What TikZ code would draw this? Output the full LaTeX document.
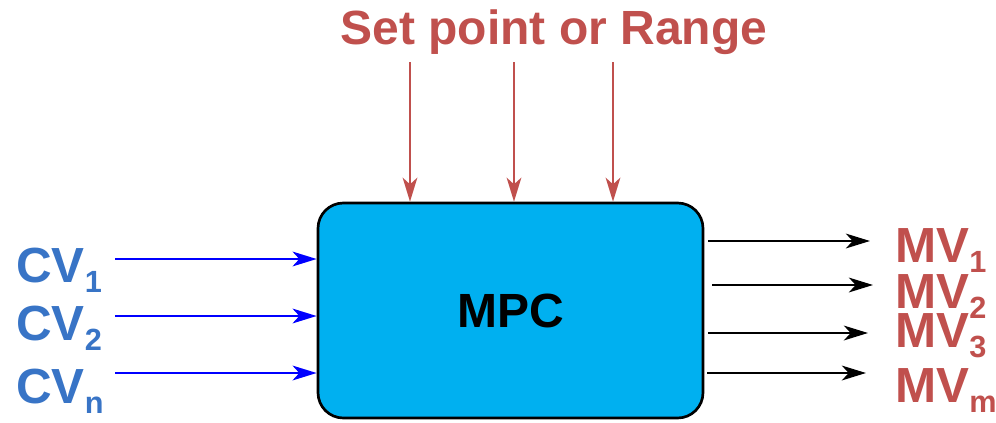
\documentclass[tikz,border=0pt]{standalone}
\usepackage{fontspec}
\setmainfont{Liberation Sans}
\usetikzlibrary{arrows.meta}
\definecolor{spred}{HTML}{C0504D}
\definecolor{cvblue}{HTML}{3874C6}
\definecolor{mpcfill}{HTML}{00B0F0}
\newcommand{\lowsub}[2][23]{\raisebox{-8pt}{\fontsize{#1}{#1}\selectfont #2}}
\begin{document}
\begin{tikzpicture}[x=0.75pt,y=-0.75pt,>={Stealth[length=18pt,width=11pt,inset=5pt]},
    lbl/.style={anchor=base west,inner sep=0pt,font=\fontsize{37}{40}\selectfont\bfseries},
    mvlbl/.style={lbl,text=spred},
    inarr/.style={->,blue,line width=2.2pt},
    outarr/.style={->,black,line width=2.2pt,shorten <=3pt},
    sparr/.style={->,spred,line width=1.6pt}]
    \useasboundingbox (0,0) rectangle (996,422);
    \node[draw=black,line width=2pt,fill=mpcfill,rounded corners=19pt,minimum width=288.75pt,minimum height=161.25pt,
        font=\fontsize{36}{40}\selectfont\bfseries] (mpc) at (510.5,310.5) {MPC};
    \node[anchor=base,inner sep=0pt,text=spred,font=\fontsize{36}{40}\selectfont\bfseries] (sp) at (554,44) {Set point or Range};
    % set point arrows
    \coordinate (s1) at (410,62);
    \coordinate (s2) at (514,62);
    \coordinate (s3) at (613,62);
    \draw[sparr] (s1) -- (s1 |- mpc.north);
    \draw[sparr] (s2) -- (s2 |- mpc.north);
    \draw[sparr] (s3) -- (s3 |- mpc.north);
    % controlled variables
    \node[lbl,text=cvblue] (cv1) at (16,282) {CV\lowsub{1}};
    \node[lbl,text=cvblue] (cv2) at (16,340) {CV\lowsub{2}};
    \node[lbl,text=cvblue] (cvn) at (16,403) {CV\lowsub{n}};
    \coordinate (c1) at (115,259);
    \coordinate (c2) at (115,316);
    \coordinate (c3) at (115,373);
    \draw[inarr] (c1) -- (c1 -| mpc.west);
    \draw[inarr] (c2) -- (c2 -| mpc.west);
    \draw[inarr] (c3) -- (c3 -| mpc.west);
    % manipulated variables
    \node[mvlbl] (mv1) at (895,262) {MV\lowsub{1}};
    \node[mvlbl] (mv2) at (895,308) {MV\lowsub{2}};
    \node[mvlbl] (mv3) at (895,347) {MV\lowsub{3}};
    \node[mvlbl] (mvm) at (895,402) {MV\lowsub{m}};
    \coordinate (m1) at (870,241);
    \coordinate (m2) at (873,285);
    \coordinate (m3) at (868,333);
    \coordinate (m4) at (866,373);
    \draw[outarr] (mpc.east |- m1) -- (m1);
    \draw[outarr,shorten <=6pt] (mpc.east |- m2) -- (m2);
    \draw[outarr] (mpc.east |- m3) -- (m3);
    \draw[outarr,shorten <=2pt] (mpc.east |- m4) -- (m4);
\end{tikzpicture}
\end{document}
